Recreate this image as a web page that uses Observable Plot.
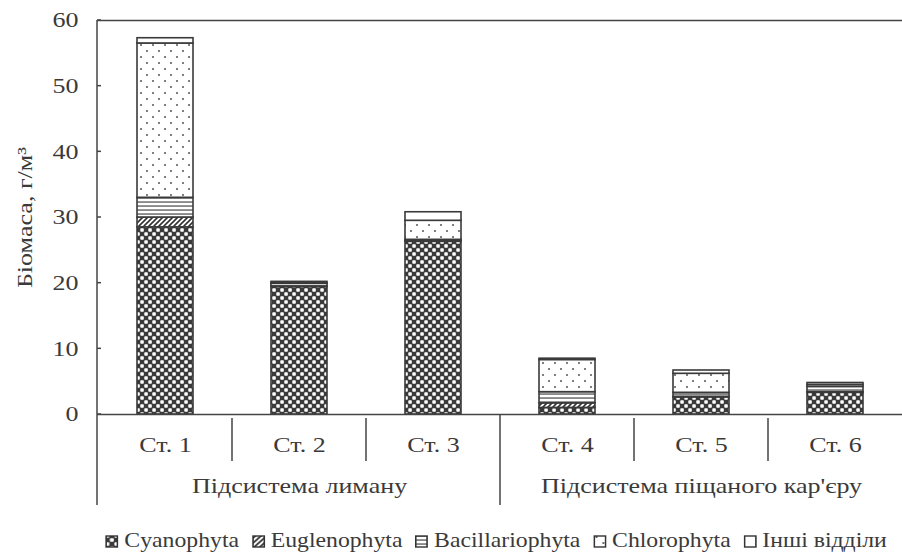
<!DOCTYPE html>
<html><head><meta charset="utf-8">
<script src="https://cdn.jsdelivr.net/npm/d3@7"></script>
<script src="https://cdn.jsdelivr.net/npm/@observablehq/plot@0.6"></script>
<style>
body{margin:0;background:#fff;font-family:"Liberation Serif",serif;}
#legend{display:flex;justify-content:center;align-items:center;gap:11px;font-size:21px;color:#3a3a3a;margin-top:16px;transform:translateX(45px) scaleX(1.13);transform-origin:451px 50%;width:902px;}
#legend span.item{display:flex;align-items:center;gap:5px;}
</style></head><body>
<div id="chart"></div>
<div id="legend"></div>
<script>
const stations = ["Ст. 1","Ст. 2","Ст. 3","Ст. 4","Ст. 5","Ст. 6"];
const groups = ["Підсистема лиману","Підсистема піщаного кар'єру"];
const groupCenters = ["Ст. 2","Ст. 5"];
const series = ["Cyanophyta","Euglenophyta","Bacillariophyta","Chlorophyta","Інші відділи"];
const cyanophyta =      [28.5, 19.4, 26.3, 1.0, 2.6, 3.3];
const euglenophyta =    [1.5, 0.1, 0.1, 0.7, 0.1, 0.1];
const bacillariophyta = [3.0, 0.4, 0.2, 1.7, 0.6, 0.8];
const chlorophyta =     [23.5, 0.1, 2.9, 4.9, 2.9, 0.3];
const other =           [0.8, 0.2, 1.3, 0.2, 0.5, 0.3];
const yTicks = [0,10,20,30,40,50,60];

const valuesBySeries = [cyanophyta, euglenophyta, bacillariophyta, chlorophyta, other];
const data = [];
series.forEach((s,i)=>stations.forEach((st,j)=>data.push({station:st, sp:s, v:valuesBySeries[i][j]})));
const patIds = ["p-cyan","p-eugl","p-bac","p-chl","p-oth"];

const FONT = '"Liberation Serif",serif';
const TXT = "#3a3a3a";
const SX = 1.24;
const W=902, H=512, mL=97, mT=20, mB=98, mR=0;
const chart = Plot.plot({
  width:W, height:H, marginLeft:mL, marginRight:mR, marginTop:mT, marginBottom:mB,
  style:{fontFamily:FONT, fontSize:"21px", color:TXT, background:"#fff"},
  x:{domain:stations, padding:0},
  y:{domain:[0,60], ticks:yTicks},
  color:{domain:series, range:patIds.map(id=>`url(#${id})`)},
  marks:[
    Plot.axisY({ticks:yTicks, tickSize:0, tickPadding:19, fontSize:21, label:"Біомаса, г/м³", labelAnchor:"center", labelOffset:80, labelArrow:"none"}),
    Plot.axisX({tickSize:0, tickPadding:23, fontSize:21, label:null}),
    Plot.barY(data, Plot.stackY({x:"station", y:"v", fill:"sp", order:series, insetLeft:39, insetRight:39, stroke:"#3a3a3a", strokeWidth:1.6})),
    Plot.ruleY([0,60], {stroke:"#444", strokeWidth:1.5}),
    Plot.text(groups, {x:(d,i)=>groupCenters[i], text:d=>d, frameAnchor:"bottom", dy:78, fontSize:21, fill:TXT})
  ]
});
const svg = d3.select(chart);
const defs = svg.insert("defs", ":first-child");
function makePatterns(defs, prefix){
  let p = defs.append("pattern").attr("id",prefix+"p-cyan").attr("patternUnits","userSpaceOnUse").attr("width",8).attr("height",8);
  p.append("rect").attr("width",8).attr("height",8).attr("fill","#3a3a3a");
  p.append("rect").attr("x",0.3).attr("y",0.3).attr("width",3.5).attr("height",3.5).attr("rx",0.8).attr("fill","#fff");
  p.append("rect").attr("x",4.3).attr("y",4.3).attr("width",3.5).attr("height",3.5).attr("rx",0.8).attr("fill","#fff");
  p = defs.append("pattern").attr("id",prefix+"p-eugl").attr("patternUnits","userSpaceOnUse").attr("width",5).attr("height",5);
  p.append("rect").attr("width",5).attr("height",5).attr("fill","#fff");
  p.append("path").attr("d","M-1,6 L6,-1 M-1,1 L1,-1 M4,6 L6,4").attr("stroke","#333").attr("stroke-width",1.6);
  p = defs.append("pattern").attr("id",prefix+"p-bac").attr("patternUnits","userSpaceOnUse").attr("width",6).attr("height",4);
  p.append("rect").attr("width",6).attr("height",4).attr("fill","#fff");
  p.append("rect").attr("y",1.4).attr("width",6).attr("height",1.3).attr("fill","#555");
  p = defs.append("pattern").attr("id",prefix+"p-chl").attr("patternUnits","userSpaceOnUse").attr("width",12).attr("height",12);
  p.append("rect").attr("width",12).attr("height",12).attr("fill","#fff");
  p.append("circle").attr("cx",3).attr("cy",3).attr("r",1).attr("fill","#555");
  p.append("circle").attr("cx",9).attr("cy",9).attr("r",1).attr("fill","#555");
  p = defs.append("pattern").attr("id",prefix+"p-oth").attr("patternUnits","userSpaceOnUse").attr("width",4).attr("height",4);
  p.append("rect").attr("width",4).attr("height",4).attr("fill","#fff");
}
makePatterns(defs, "");
const xs = chart.scale("x"), ys = chart.scale("y");
const y0 = ys.apply(0), yTop = ys.apply(60);
const g = svg.append("g").attr("stroke","#444").attr("stroke-width",1.5);
g.append("line").attr("x1",mL).attr("x2",mL).attr("y1",yTop).attr("y2",y0+91);
yTicks.forEach(t=>g.append("line").attr("x1",mL).attr("x2",mL+4).attr("y1",ys.apply(t)).attr("y2",ys.apply(t)));
stations.forEach((st,i)=>{
  if(i===0) return;
  const x = xs.apply(st);
  if(i===3) g.append("line").attr("x1",x).attr("x2",x).attr("y1",y0).attr("y2",y0+91);
  else g.append("line").attr("x1",x).attr("x2",x).attr("y1",y0+4).attr("y2",y0+47);
});
document.getElementById("chart").append(chart);
// widen the serif text horizontally (reference typeface is wider) by wrapping each text in a scaled group
const NS = "http://www.w3.org/2000/svg";
chart.querySelectorAll("text").forEach(el=>{
  el.style.fontFamily = FONT;
  const c = el.transform.baseVal.consolidate();
  const m = c ? c.matrix : {a:1,b:0,c:0,d:1,e:0,f:0};
  const x = el.x.baseVal.numberOfItems ? el.x.baseVal.getItem(0).value : 0;
  const y = el.y.baseVal.numberOfItems ? el.y.baseVal.getItem(0).value : 0;
  const Px = m.a*x + m.c*y + m.e, Py = m.b*x + m.d*y + m.f;
  const rotated = Math.abs(m.b) > 0.5;
  const wrap = document.createElementNS(NS, "g");
  el.parentNode.insertBefore(wrap, el);
  wrap.appendChild(el);
  wrap.setAttribute("transform", `translate(${Px},${Py}) scale(${rotated?1:SX},${rotated?SX:1}) translate(${-Px},${-Py})`);
});
const leg = document.getElementById("legend");
series.forEach((s,i)=>{
  const item = document.createElement("span"); item.className="item";
  const sw = d3.create("svg").attr("width",12).attr("height",14);
  const d2 = sw.append("defs"); makePatterns(d2, "lg"+i);
  sw.append("rect").attr("x",1).attr("y",2).attr("width",10).attr("height",11).attr("fill",`url(#lg${i}${patIds[i]})`).attr("stroke","#333").attr("stroke-width",1.4);
  item.append(sw.node());
  const t = document.createElement("span"); t.textContent = s; item.append(t);
  leg.append(item);
});
</script></body></html>
